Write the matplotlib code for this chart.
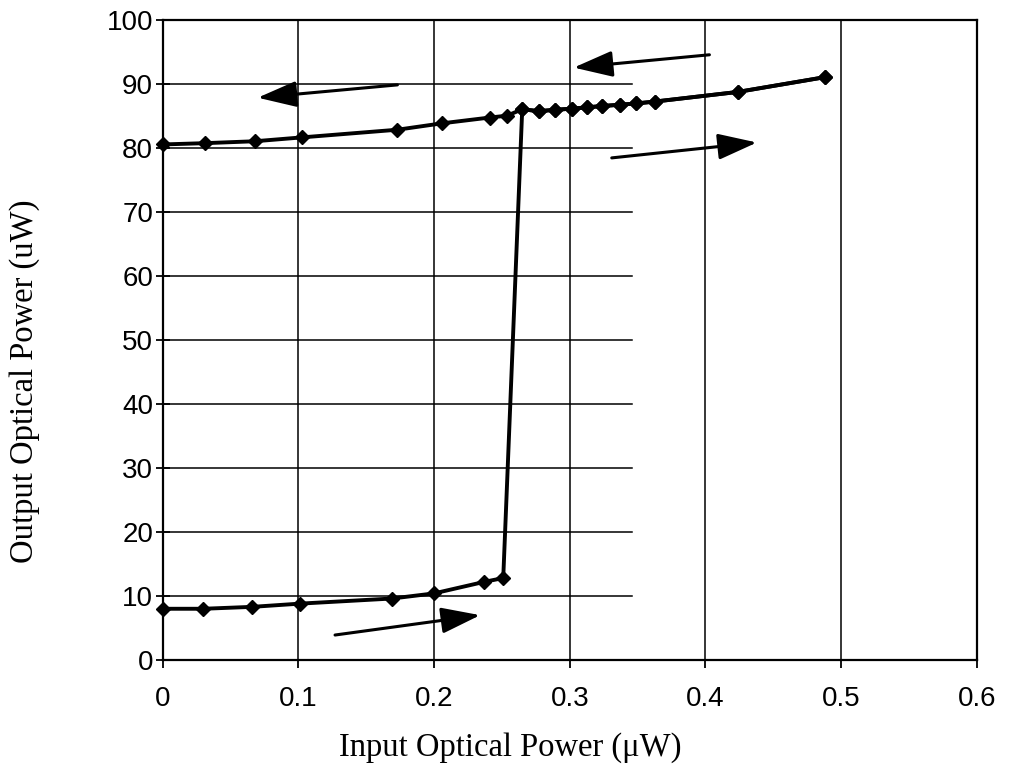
import matplotlib.pyplot as plt
import numpy as np

# lower branch (increasing input)
x_low = [0.0, 0.030, 0.066, 0.101, 0.169, 0.200, 0.237, 0.251]
y_low = [8.0, 8.0, 8.3, 8.8, 9.6, 10.4, 12.2, 12.8]

# upper branch
x_up = [0.0, 0.031, 0.068, 0.1025, 0.173, 0.206, 0.241, 0.254, 0.265, 0.277,
        0.289, 0.302, 0.313, 0.324, 0.337, 0.349, 0.363, 0.424, 0.488]
y_up = [80.5, 80.7, 81.0, 81.6, 82.8, 83.8, 84.7, 85.0, 86.0, 85.7,
        85.9, 86.1, 86.3, 86.5, 86.7, 86.9, 87.2, 88.7, 91.0]

# direction arrows: (x_start, y_start, x_end, y_end)
arrows = [(0.403, 94.5, 0.303, 92.5),
          (0.173, 89.8, 0.070, 87.8),
          (0.331, 78.4, 0.438, 80.8),
          (0.127, 3.9, 0.234, 7.0)]

x_ticks = [0, 0.1, 0.2, 0.3, 0.4, 0.5, 0.6]
y_ticks = list(range(0, 101, 10))

fig = plt.figure(figsize=(10.11, 7.67), dpi=100)
ax = fig.add_axes([0.161, 0.1395, 0.805, 0.835])

ax.set_xlim(0, 0.6)
ax.set_ylim(0, 100)

# grid: vertical full height, horizontal stops around 0.346
for xv in x_ticks[1:-1]:
    ax.axvline(xv, color='black', lw=1.1, zorder=1)
for yv in y_ticks[1:-1]:
    ax.plot([0, 0.346], [yv, yv], color='black', lw=1.1, zorder=1)

# increasing sweep: lower branch then jump and upper part
xs_inc = x_low + x_up[8:]
ys_inc = y_low + y_up[8:]
ax.plot(xs_inc, ys_inc, color='black', lw=2.8, marker='D', ms=7, zorder=3, clip_on=False)
# decreasing sweep along the upper branch
ax.plot(x_up[::-1], y_up[::-1], color='black', lw=2.8, marker='D', ms=7, zorder=3, clip_on=False)

for x0, y0, x1, y1 in arrows:
    ax.annotate('', xy=(x1, y1), xytext=(x0, y0),
                arrowprops=dict(arrowstyle='-|>,head_length=2.4,head_width=0.8',
                                color='black', lw=2.2, shrinkA=0, shrinkB=0))

ax.set_xticks(x_ticks)
ax.set_xticklabels(['0', '0.1', '0.2', '0.3', '0.4', '0.5', '0.6'])
ax.set_yticks(y_ticks)
ax.tick_params(axis='x', direction='out', length=6, width=1.3, labelsize=20, pad=13)
ax.tick_params(axis='y', direction='inout', length=10, width=1.3, labelsize=20, pad=2)
for lab in ax.get_xticklabels() + ax.get_yticklabels():
    lab.set_family('Liberation Sans')

for sp in ax.spines.values():
    sp.set_linewidth(1.6)

ax.set_xlabel('Input Optical Power (\u03bcW)', family='Liberation Serif', fontsize=23.5, va='center')
ax.xaxis.set_label_coords(0.4275, -0.136)
ax.set_ylabel('Output Optical Power (uW)', family='Liberation Serif', fontsize=23.5, va='center')
ax.yaxis.set_label_coords(-0.1695, 0.436)

fig.savefig('out.png', dpi=100)
